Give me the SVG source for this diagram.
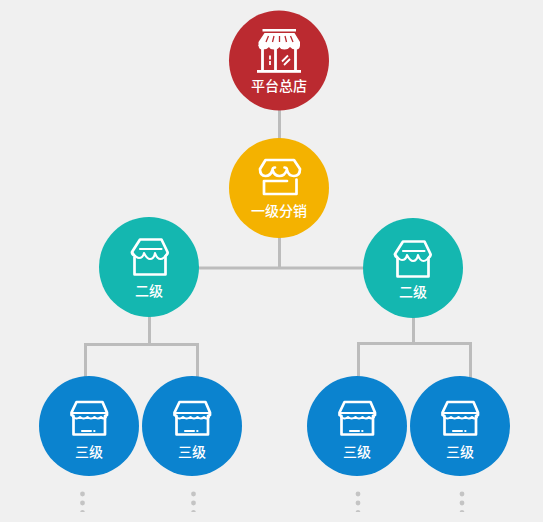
<svg xmlns="http://www.w3.org/2000/svg" width="543" height="522" viewBox="0 0 543 522">
<style>
.t{font-family:"Noto Sans CJK SC","Liberation Sans",sans-serif;font-size:14px;fill:#fff;text-anchor:middle;font-weight:500}
.i{fill:none;stroke:#fff;stroke-width:2.700;stroke-linejoin:round;stroke-linecap:round}
.s{stroke-width:2.100}
.l{fill:none;stroke:#bcbcbc;stroke-width:3}
.d{fill:#c4c4c4}
</style>
<defs>
<clipPath id="page"><rect width="543" height="512"/></clipPath>
<g id="shop2"><path class="i" d="M-9 -27.500H12.500L18.500 -15Q19 -13 16.500 -11V7.500H-14.500V-11Q-17.500 -13 -17 -15Z"/><path class="i s" d="M-9 -18H12.500M-16.500 -14.500Q-13 -9 -10 -9Q-6 -9 -5 -14Q-2 -8 1 -8Q5 -8 6 -14Q8 -8 11.500 -8Q15 -8 18.500 -14"/></g>
<g id="shop3"><path class="i" d="M-12 -24H14L18.500 -13.500V-11L16.500 -10V8.500H-15V-10L-17 -11V-13.500Z"/><path class="i s" d="M-16 -13H18"/><path class="i s" d="M-15.500 -9Q-12 -6 -8.500 -9Q-5 -6 -1 -9Q2.500 -6 6 -9Q9.500 -6 12.500 -9Q15 -6 17.500 -9"/><path class="i s" d="M-6.500 5H2.500M5.700 5H6"/></g>
</defs>
<rect width="543" height="522" fill="#f0f0f0"/>
<g id="connectors">
<path class="l" d="M279.500 108V140M279.500 235V268M198 268H365M149.500 316V344.500H85.500V378M149.500 344.500H197.500V378M413.500 316V343.500H358.500V378M413.500 343.500H470.500V378"/>
<g clip-path="url(#page)">
<circle class="d" cx="82.500" cy="494" r="2.400"/><circle class="d" cx="82.500" cy="503" r="2.400"/><circle class="d" cx="82.500" cy="512.500" r="2.400"/>
<circle class="d" cx="193.500" cy="494" r="2.400"/><circle class="d" cx="193.500" cy="503" r="2.400"/><circle class="d" cx="193.500" cy="512.500" r="2.400"/>
<circle class="d" cx="358" cy="494" r="2.400"/><circle class="d" cx="358" cy="503" r="2.400"/><circle class="d" cx="358" cy="512.500" r="2.400"/>
<circle class="d" cx="462" cy="494" r="2.400"/><circle class="d" cx="462" cy="503" r="2.400"/><circle class="d" cx="462" cy="512.500" r="2.400"/>
</g>
</g>
<g id="node-platform"><circle cx="279" cy="60.500" r="50" fill="#bb2a30"/>
<path fill="#fff" d="M262.500 29H296V31.500H262.500ZM264.500 33H294.500L300 42V46H258.500V42Z"/>
<path fill="none" stroke="#bb2a30" stroke-width="1.300" d="M268.500 36L266 42M274 36L272.500 42M279.500 36V42M285 36L286.500 42M290.500 36L293 42"/>
<path fill="#fff" d="M258.500 45H300Q300 49.500 296 49.500Q292 49.500 290 47Q288 49.500 284.500 49.500Q280.500 49.500 279.500 47Q278 49.500 274 49.500Q270 49.500 269 47Q267 49.500 262.500 49.500Q258.500 49.500 258.500 45Z"/>
<path fill="none" stroke="#fff" stroke-width="2.800" d="M262.500 49V71M275.500 49V71M295.500 49V71"/>
<path fill="none" stroke="#fff" stroke-width="1.800" d="M270 55.500V59.500M270 61V65M282 61.500L288 55.500M284 65L290 59"/>
<rect x="257" y="70" width="44" height="2.800" fill="#fff"/>
<text class="t" x="279" y="91">平台总店</text></g>
<g id="node-level1"><circle cx="279" cy="188" r="50" fill="#f4b200"/>
<path class="i" d="M265.500 160H294L300 169Q300 176 294 176Q288.500 176 287 170Q284.500 176 279.500 176Q274.500 176 272.500 170Q270.500 176 265.500 176Q260 176 260 169ZM272.500 170Q272.500 167.500 275 167.500M287 170Q287 167.500 284.500 167.500M264 181H287M264 181V194H296.500V179.500"/>
<text class="t" x="279" y="216">一级分销</text></g>
<g id="node-l2-left"><circle cx="149" cy="267" r="50" fill="#14b7b0"/>
<use href="#shop2" x="149" y="267"/>
<text class="t" x="149" y="296">二级</text></g>
<g id="node-l2-right"><circle cx="413" cy="268" r="50" fill="#14b7b0"/>
<use href="#shop2" x="412" y="269"/>
<text class="t" x="413" y="297">二级</text></g>
<g id="node-l3-1"><circle cx="89" cy="426" r="50" fill="#0b83cf"/>
<use href="#shop3" x="88.500" y="426"/>
<text class="t" x="89" y="457">三级</text></g>
<g id="node-l3-2"><circle cx="192" cy="426" r="50" fill="#0b83cf"/>
<use href="#shop3" x="191.500" y="426"/>
<text class="t" x="192" y="457">三级</text></g>
<g id="node-l3-3"><circle cx="357" cy="426" r="50" fill="#0b83cf"/>
<use href="#shop3" x="356.500" y="426"/>
<text class="t" x="357" y="457">三级</text></g>
<g id="node-l3-4"><circle cx="460" cy="426" r="50" fill="#0b83cf"/>
<use href="#shop3" x="459.500" y="426"/>
<text class="t" x="460" y="457">三级</text></g>
</svg>
